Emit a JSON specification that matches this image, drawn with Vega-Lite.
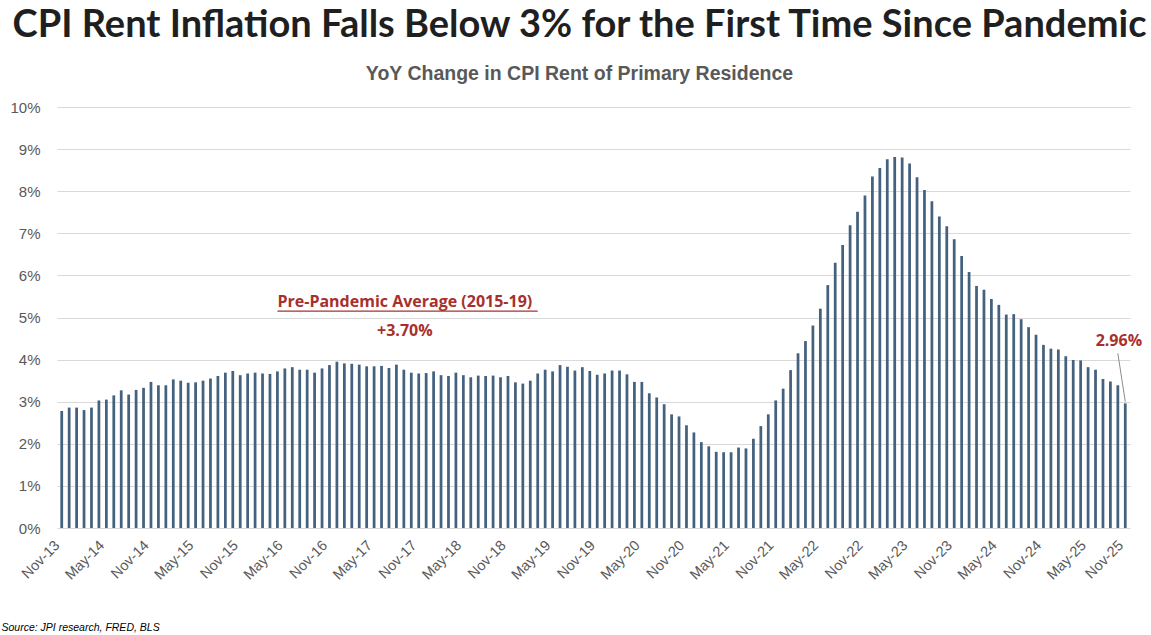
{
  "$schema": "https://vega.github.io/schema/vega-lite/v6.json",
  "autosize": {"type": "none"},
  "width": 1073,
  "height": 421,
  "padding": {"left": 57, "top": 107, "right": 21, "bottom": 107},
  "background": "white",
  "config": {"view": {"stroke": null}},
  "title": {
    "text": "CPI Rent Inflation Falls Below 3% for the First Time Since Pandemic",
    "subtitle": "YoY Change in CPI Rent of Primary Residence",
    "anchor": "middle",
    "dx": -14,
    "font": "Lato",
    "fontSize": 38,
    "fontWeight": "bold",
    "color": "#1f1f1f",
    "subtitleFont": "Liberation Sans",
    "subtitleFontSize": 19.5,
    "subtitleFontWeight": "bold",
    "subtitleColor": "#595959",
    "subtitlePadding": 20,
    "offset": 17
  },
  "data": {"values": [
    {"m": "Nov-13", "v": 2.78}, {"m": "Dec-13", "v": 2.86}, {"m": "Jan-14", "v": 2.86}, {"m": "Feb-14", "v": 2.80},
    {"m": "Mar-14", "v": 2.86}, {"m": "Apr-14", "v": 3.03}, {"m": "May-14", "v": 3.05}, {"m": "Jun-14", "v": 3.15},
    {"m": "Jul-14", "v": 3.27}, {"m": "Aug-14", "v": 3.17}, {"m": "Sep-14", "v": 3.28}, {"m": "Oct-14", "v": 3.33},
    {"m": "Nov-14", "v": 3.47}, {"m": "Dec-14", "v": 3.39}, {"m": "Jan-15", "v": 3.39}, {"m": "Feb-15", "v": 3.53},
    {"m": "Mar-15", "v": 3.50}, {"m": "Apr-15", "v": 3.45}, {"m": "May-15", "v": 3.46}, {"m": "Jun-15", "v": 3.50},
    {"m": "Jul-15", "v": 3.55}, {"m": "Aug-15", "v": 3.61}, {"m": "Sep-15", "v": 3.69}, {"m": "Oct-15", "v": 3.73},
    {"m": "Nov-15", "v": 3.63}, {"m": "Dec-15", "v": 3.67}, {"m": "Jan-16", "v": 3.69}, {"m": "Feb-16", "v": 3.67},
    {"m": "Mar-16", "v": 3.66}, {"m": "Apr-16", "v": 3.72}, {"m": "May-16", "v": 3.79}, {"m": "Jun-16", "v": 3.82},
    {"m": "Jul-16", "v": 3.76}, {"m": "Aug-16", "v": 3.76}, {"m": "Sep-16", "v": 3.69}, {"m": "Oct-16", "v": 3.79},
    {"m": "Nov-16", "v": 3.87}, {"m": "Dec-16", "v": 3.95}, {"m": "Jan-17", "v": 3.91}, {"m": "Feb-17", "v": 3.90},
    {"m": "Mar-17", "v": 3.88}, {"m": "Apr-17", "v": 3.84}, {"m": "May-17", "v": 3.84}, {"m": "Jun-17", "v": 3.85},
    {"m": "Jul-17", "v": 3.80}, {"m": "Aug-17", "v": 3.88}, {"m": "Sep-17", "v": 3.76}, {"m": "Oct-17", "v": 3.69},
    {"m": "Nov-17", "v": 3.67}, {"m": "Dec-17", "v": 3.68}, {"m": "Jan-18", "v": 3.72}, {"m": "Feb-18", "v": 3.63},
    {"m": "Mar-18", "v": 3.61}, {"m": "Apr-18", "v": 3.69}, {"m": "May-18", "v": 3.63}, {"m": "Jun-18", "v": 3.58},
    {"m": "Jul-18", "v": 3.62}, {"m": "Aug-18", "v": 3.61}, {"m": "Sep-18", "v": 3.62}, {"m": "Oct-18", "v": 3.58},
    {"m": "Nov-18", "v": 3.61}, {"m": "Dec-18", "v": 3.46}, {"m": "Jan-19", "v": 3.43}, {"m": "Feb-19", "v": 3.50},
    {"m": "Mar-19", "v": 3.67}, {"m": "Apr-19", "v": 3.76}, {"m": "May-19", "v": 3.72}, {"m": "Jun-19", "v": 3.87},
    {"m": "Jul-19", "v": 3.83}, {"m": "Aug-19", "v": 3.74}, {"m": "Sep-19", "v": 3.82}, {"m": "Oct-19", "v": 3.73},
    {"m": "Nov-19", "v": 3.64}, {"m": "Dec-19", "v": 3.67}, {"m": "Jan-20", "v": 3.74}, {"m": "Feb-20", "v": 3.74},
    {"m": "Mar-20", "v": 3.65}, {"m": "Apr-20", "v": 3.47}, {"m": "May-20", "v": 3.47}, {"m": "Jun-20", "v": 3.20},
    {"m": "Jul-20", "v": 3.10}, {"m": "Aug-20", "v": 2.94}, {"m": "Sep-20", "v": 2.70}, {"m": "Oct-20", "v": 2.65},
    {"m": "Nov-20", "v": 2.44}, {"m": "Dec-20", "v": 2.27}, {"m": "Jan-21", "v": 2.04}, {"m": "Feb-21", "v": 1.94},
    {"m": "Mar-21", "v": 1.81}, {"m": "Apr-21", "v": 1.80}, {"m": "May-21", "v": 1.80}, {"m": "Jun-21", "v": 1.91},
    {"m": "Jul-21", "v": 1.89}, {"m": "Aug-21", "v": 2.12}, {"m": "Sep-21", "v": 2.42}, {"m": "Oct-21", "v": 2.70},
    {"m": "Nov-21", "v": 3.03}, {"m": "Dec-21", "v": 3.31}, {"m": "Jan-22", "v": 3.75}, {"m": "Feb-22", "v": 4.15},
    {"m": "Mar-22", "v": 4.44}, {"m": "Apr-22", "v": 4.81}, {"m": "May-22", "v": 5.21}, {"m": "Jun-22", "v": 5.77},
    {"m": "Jul-22", "v": 6.30}, {"m": "Aug-22", "v": 6.72}, {"m": "Sep-22", "v": 7.19}, {"m": "Oct-22", "v": 7.51},
    {"m": "Nov-22", "v": 7.90}, {"m": "Dec-22", "v": 8.35}, {"m": "Jan-23", "v": 8.55}, {"m": "Feb-23", "v": 8.76},
    {"m": "Mar-23", "v": 8.81}, {"m": "Apr-23", "v": 8.80}, {"m": "May-23", "v": 8.66}, {"m": "Jun-23", "v": 8.33},
    {"m": "Jul-23", "v": 8.03}, {"m": "Aug-23", "v": 7.76}, {"m": "Sep-23", "v": 7.40}, {"m": "Oct-23", "v": 7.17},
    {"m": "Nov-23", "v": 6.86}, {"m": "Dec-23", "v": 6.46}, {"m": "Jan-24", "v": 6.08}, {"m": "Feb-24", "v": 5.75},
    {"m": "Mar-24", "v": 5.66}, {"m": "Apr-24", "v": 5.44}, {"m": "May-24", "v": 5.30}, {"m": "Jun-24", "v": 5.07},
    {"m": "Jul-24", "v": 5.08}, {"m": "Aug-24", "v": 4.96}, {"m": "Sep-24", "v": 4.77}, {"m": "Oct-24", "v": 4.59},
    {"m": "Nov-24", "v": 4.35}, {"m": "Dec-24", "v": 4.26}, {"m": "Jan-25", "v": 4.24}, {"m": "Feb-25", "v": 4.08},
    {"m": "Mar-25", "v": 3.99}, {"m": "Apr-25", "v": 3.98}, {"m": "May-25", "v": 3.82}, {"m": "Jun-25", "v": 3.76},
    {"m": "Jul-25", "v": 3.54}, {"m": "Aug-25", "v": 3.48}, {"m": "Sep-25", "v": 3.39}, {"m": "Oct-25", "v": null},
    {"m": "Nov-25", "v": 2.96}
  ]},
  "encoding": {
    "x": {
      "field": "m",
      "type": "ordinal",
      "sort": null,
      "scale": {"paddingInner": 0.63, "paddingOuter": 0.45},
      "axis": {
        "values": ["Nov-13","May-14","Nov-14","May-15","Nov-15","May-16","Nov-16","May-17","Nov-17","May-18","Nov-18","May-19","Nov-19","May-20","Nov-20","May-21","Nov-21","May-22","Nov-22","May-23","Nov-23","May-24","Nov-24","May-25","Nov-25"],
        "labelAngle": -45,
        "labelAlign": "right",
        "labelBaseline": "middle",
        "labelFont": "Liberation Sans",
        "labelFontSize": 14.5,
        "labelColor": "#595959",
        "labelPadding": 15,
        "labelOffset": -4,
        "ticks": false,
        "domain": false,
        "grid": false,
        "title": "Source: JPI research, FRED, BLS",
        "titleFont": "Liberation Sans",
        "titleFontSize": 10.5,
        "titleFontStyle": "italic",
        "titleFontWeight": "normal",
        "titleColor": "#000000",
        "titleAnchor": "start",
        "titleAlign": "left",
        "titleBaseline": "alphabetic",
        "titleX": -56,
        "titleY": 102
      }
    }
  },
  "layer": [
    {
      "mark": {"type": "bar", "color": "#44617e", "invalid": "break-paths-show-domains"},
      "encoding": {
        "y": {
          "field": "v",
          "type": "quantitative",
          "scale": {"domain": [0, 10], "nice": false},
          "axis": {
            "values": [0,1,2,3,4,5,6,7,8,9,10],
            "labelExpr": "datum.value + '%'",
            "labelFont": "Liberation Sans",
            "labelFontSize": 15,
            "labelColor": "#595959",
            "labelPadding": 17,
            "ticks": false,
            "domain": false,
            "gridColor": "#d9d9d9",
            "gridWidth": 1,
            "title": null
          }
        }
      }
    },
    {
      "data": {"values": [
        {"m": "Sep-17", "y": 5.25, "t": "Pre-Pandemic Average (2015-19)"},
        {"m": "Sep-17", "y": 4.56, "t": "+3.70%"},
        {"m": "Sep-25", "y": 4.33, "t": "2.96%"}
      ]},
      "mark": {"type": "text", "font": "Open Sans", "fontWeight": "bold", "fontSize": 16, "color": "#a8302c", "align": "center", "baseline": "alphabetic", "dx": 1},
      "encoding": {
        "y": {"field": "y", "type": "quantitative"},
        "text": {"field": "t"}
      }
    },
    {
      "data": {"values": [
        {"m": "Apr-16", "m2": "Mar-19", "y": 5.15}
      ]},
      "mark": {"type": "rule", "color": "#a8302c", "strokeWidth": 1.3},
      "encoding": {
        "x2": {"field": "m2"},
        "y": {"field": "y", "type": "quantitative"}
      }
    },
    {
      "data": {"values": [
        {"m": "Sep-25", "m2": "Nov-25", "y": 4.15, "y2": 3.0}
      ]},
      "mark": {"type": "rule", "color": "#8c8c8c", "strokeWidth": 1},
      "encoding": {
        "x2": {"field": "m2"},
        "y": {"field": "y", "type": "quantitative"},
        "y2": {"field": "y2"}
      }
    }
  ]
}
